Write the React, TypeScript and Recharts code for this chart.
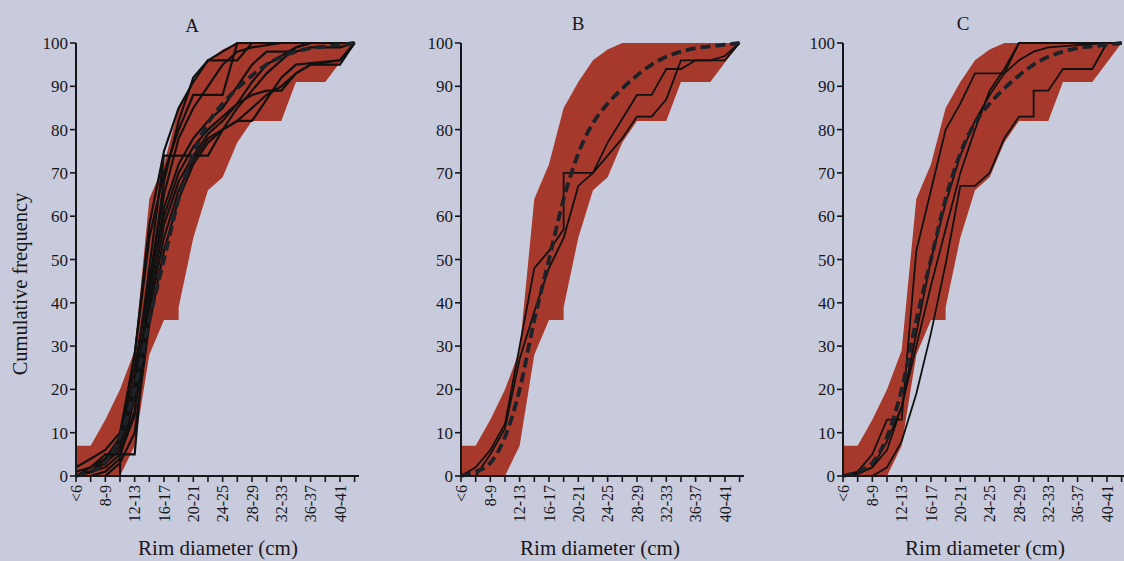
import React from 'react';
import { ComposedChart, Area, Line, XAxis, YAxis } from 'recharts';

type Pt = [number, number];

const CATEGORIES = [
  '<6', '6-7', '8-9', '10-11', '12-13', '14-15', '16-17', '18-19', '20-21', '22-23',
  '24-25', '26-27', '28-29', '30-31', '32-33', '34-35', '36-37', '38-39', '40-41', '42-43',
];
const X_TICKS = CATEGORIES.map((_, i) => i);
const Y_TICKS = [0, 10, 20, 30, 40, 50, 60, 70, 80, 90, 100];

// simulated envelope (same band in every panel)
const ENV_X = [0, 1, 2, 3, 4, 5, 6, 7, 7, 8, 9, 10, 11, 12, 13, 14, 15, 16, 17, 18, 19];
const ENV_LOW = [0, 0, 0, 0, 7, 28, 36, 36, 39, 55, 66, 69, 77, 82, 82, 82, 91, 91, 91, 95.5, 100];
const ENV_HIGH = [7, 7, 13, 20, 29, 64, 72, 85, 85, 91, 96, 98.5, 100, 100, 100, 100, 100, 100, 100, 100, 100];

// dashed mean curve
const MEAN: Pt[] = [
  [0, 0], [1, 1], [2, 3], [3, 9], [4, 20], [5, 36], [6, 50], [7, 64], [8, 74.5], [9, 81.5],
  [10, 86], [11, 89.5], [12, 92.5], [13, 95], [14, 96.8], [15, 98], [16, 98.8], [17, 99.2], [18, 99.6], [19, 100],
];

// panel A assemblages
const A1: Pt[] = [[0, 0], [1, 1], [2, 3], [3, 7], [4, 22], [5, 48], [6, 74], [9, 74], [10, 80], [11, 85], [12, 89], [13, 93], [14, 96], [15, 99], [16, 100], [19, 100]];
const A2: Pt[] = [[0, 0], [1, 1], [2, 4], [3, 9], [4, 28], [5, 55], [6, 70], [7, 80], [8, 88], [10, 88], [11, 100], [19, 100]];
const A3: Pt[] = [[0, 2], [1, 4], [2, 6], [3, 10], [4, 28], [5, 58], [6, 75], [7, 85], [8, 91], [9, 96], [11, 96], [12, 100], [19, 100]];
const A4: Pt[] = [[0, 0], [1, 2], [2, 5], [4, 5], [5, 45], [6, 65], [7, 78], [8, 85], [9, 90], [10, 95], [11, 98], [12, 99], [14, 100], [19, 100]];
const A5: Pt[] = [[0, 0], [1, 0], [2, 1], [3, 4], [4, 18], [5, 40], [6, 58], [7, 68], [8, 74], [9, 79], [10, 82], [11, 86], [12, 91], [13, 95], [14, 97], [15, 99], [16, 100], [19, 100]];
const A6: Pt[] = [[0, 0], [3, 0], [3, 5], [4, 15], [5, 38], [6, 55], [7, 66], [8, 73], [9, 78], [10, 80], [11, 82], [12, 82], [13, 87], [14, 92], [15, 95], [18, 96], [19, 100]];
const A7: Pt[] = [[0, 1], [1, 2], [2, 4], [3, 8], [4, 25], [5, 44], [6, 60], [7, 70], [8, 76], [9, 80], [10, 83], [11, 86], [12, 88], [13, 89], [14, 89], [15, 93], [16, 95], [18, 95], [19, 100]];
const A8: Pt[] = [[0, 0], [1, 1], [2, 3], [3, 6], [4, 20], [5, 42], [6, 62], [7, 72], [8, 78], [9, 82], [10, 85], [11, 90], [12, 95], [13, 98], [15, 98], [16, 99], [18, 99], [19, 100]];
const A9: Pt[] = [[0, 0], [1, 1], [2, 2], [3, 5], [4, 14], [5, 44], [6, 68], [7, 82], [8, 92], [9, 96], [10, 98], [11, 100], [19, 100]];
const A10: Pt[] = [[0, 0], [2, 0], [3, 3], [4, 10], [5, 35], [6, 52], [7, 64], [8, 72], [9, 77], [10, 80], [11, 82], [12, 85], [13, 88], [14, 90], [15, 93], [16, 95], [18, 96], [19, 100]];

// panel B assemblages
const B1: Pt[] = [[0, 0], [1, 2], [2, 6], [3, 12], [4, 30], [5, 48], [6, 52], [7, 57], [7, 70], [9, 70], [10, 77], [11, 82.5], [12, 88], [13, 88], [14, 94], [15, 94], [16, 96], [18, 96], [19, 100]];
const B2: Pt[] = [[0, 0], [1, 0], [2, 5], [3, 11], [4, 27], [5, 38], [6, 48], [7, 55], [8, 67], [9, 70], [10, 74], [11, 78], [12, 83], [13, 83], [14, 87], [15, 96], [17, 96], [18, 97], [19, 100]];

// panel C assemblages
const C1: Pt[] = [[0, 0], [1, 1], [2, 5], [3, 13], [4, 13], [5, 52], [6, 66], [7, 80], [8, 86], [9, 93], [11, 93], [12, 100], [19, 100]];
const C2: Pt[] = [[0, 0], [1, 0.5], [2, 2], [3, 8], [4, 16], [5, 30], [6, 44], [7, 57], [8, 70], [9, 80], [10, 89], [11, 94], [12, 100], [19, 100]];
const C3: Pt[] = [[0, 0], [2, 0], [3, 2], [4, 8], [5, 19], [6, 33], [7, 49], [8, 67], [9, 67], [10, 70], [11, 78], [12, 83], [13, 83], [13, 89], [14, 89], [15, 94], [17, 94], [18, 100], [19, 100]];
const C4: Pt[] = [[0, 0], [1, 0.5], [2, 2], [3, 6], [4, 16], [5, 33], [6, 50], [7, 63], [8, 74], [9, 82], [10, 88], [11, 93], [12, 96], [13, 98], [14, 99], [16, 99.5], [18, 100], [19, 100]];

const BG = '#c8cbdc';
const RED = '#a6392c';
const INK = '#17171b';
const FONT = '"Liberation Serif", "Times New Roman", serif';

const envelope = ENV_X.map((x, i) => ({ x, band: [ENV_LOW[i], ENV_HIGH[i]] }));
const toRows = (pts: Pt[]) => pts.map(([x, y]) => ({ x, y }));

function XTick({ x, y, payload }: any) {
  const i = payload.value;
  if (i % 2 !== 0) return <g />;
  return (
    <text
      x={x}
      y={y}
      transform={`rotate(-90 ${x} ${y})`}
      textAnchor="end"
      dy="0.35em"
      fontSize={16}
      fontFamily={FONT}
      fill={INK}
    >
      {CATEGORIES[i]}
    </text>
  );
}

function Panel({ left, lines, lineWidth }: { left: number; lines: Pt[][]; lineWidth: number }) {
  return (
    <div style={{ position: 'absolute', left, top: 0 }}>
      <ComposedChart width={380} height={561} margin={{ top: 43, right: 21, bottom: 25, left: 16 }}>
        <XAxis
          type="number"
          dataKey="x"
          domain={[0, 19.3]}
          ticks={X_TICKS}
          interval={0}
          allowDataOverflow
          height={60}
          tickSize={6}
          tickMargin={3}
          tick={<XTick />}
          axisLine={{ stroke: INK, strokeWidth: 2 }}
          tickLine={{ stroke: INK, strokeWidth: 1.6 }}
        />
        <YAxis
          type="number"
          domain={[0, 100]}
          ticks={Y_TICKS}
          interval={0}
          width={60}
          tickSize={6}
          tickMargin={2}
          tick={{ fontSize: 17, fontFamily: FONT, fill: INK }}
          axisLine={{ stroke: INK, strokeWidth: 2 }}
          tickLine={{ stroke: INK, strokeWidth: 1.6 }}
        />
        <Area
          data={envelope}
          dataKey="band"
          type="linear"
          stroke="none"
          fill={RED}
          fillOpacity={1}
          isAnimationActive={false}
          activeDot={false}
        />
        {lines.map((pts, k) => (
          <Line
            key={k}
            data={toRows(pts)}
            dataKey="y"
            type="linear"
            stroke="#111"
            strokeWidth={lineWidth}
            dot={false}
            activeDot={false}
            isAnimationActive={false}
          />
        ))}
        <Line
          data={toRows(MEAN)}
          dataKey="y"
          type="monotone"
          stroke="#1c2228"
          strokeWidth={3.8}
          strokeDasharray="10 5"
          dot={false}
          activeDot={false}
          isAnimationActive={false}
        />
      </ComposedChart>
    </div>
  );
}

export default function App() {
  const textStyle = { fontFamily: FONT, fill: INK } as const;
  return (
    <div style={{ position: 'absolute', left: 0, top: 0, width: 1124, height: 561, overflow: 'hidden', background: BG }}>
      <Panel left={0} lines={[A1, A2, A3, A4, A5, A6, A7, A8, A9, A10]} lineWidth={2.2} />
      <Panel left={385} lines={[B1, B2]} lineWidth={1.8} />
      <Panel left={767} lines={[C1, C2, C3, C4]} lineWidth={1.8} />
      <svg width={1124} height={561} style={{ position: 'absolute', left: 0, top: 0, pointerEvents: 'none' }}>
        <text x={192} y={32} fontSize={19} textAnchor="middle" {...textStyle}>A</text>
        <text x={578} y={30} fontSize={19} textAnchor="middle" {...textStyle}>B</text>
        <text x={963} y={30} fontSize={19} textAnchor="middle" {...textStyle}>C</text>
        <text x={218} y={555} fontSize={21} textAnchor="middle" {...textStyle}>Rim diameter (cm)</text>
        <text x={600} y={555} fontSize={21} textAnchor="middle" {...textStyle}>Rim diameter (cm)</text>
        <text x={985} y={555} fontSize={21} textAnchor="middle" {...textStyle}>Rim diameter (cm)</text>
        <text x={0} y={0} fontSize={20.5} textAnchor="middle" transform="translate(27 284) rotate(-90)" {...textStyle}>
          Cumulative frequency
        </text>
      </svg>
    </div>
  );
}
